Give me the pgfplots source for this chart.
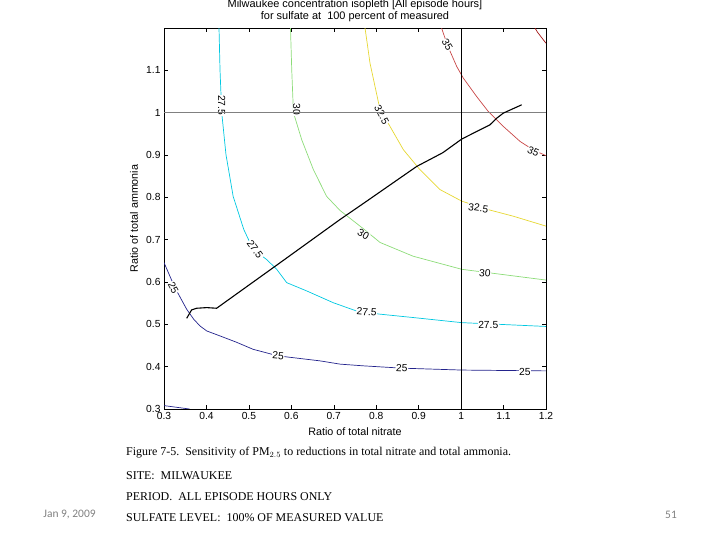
\documentclass[border=0pt]{standalone}
\usepackage{pgfplots}
\pgfplotsset{compat=1.18}
\usepackage{fontspec}
\setmainfont{Liberation Sans}
\newfontfamily\capfont{Liberation Serif}
\newfontfamily\footfont{Carlito}
\definecolor{c25}{RGB}{35,35,140}
\definecolor{c275}{RGB}{0,200,225}
\definecolor{c30}{RGB}{140,220,120}
\definecolor{c325}{RGB}{230,215,50}
\definecolor{c35}{RGB}{200,70,70}
\definecolor{c375}{RGB}{160,20,20}
\begin{document}
\begin{tikzpicture}
\useasboundingbox (0,0) rectangle (720bp,540bp);
\begin{axis}[
  at={(164bp,131bp)}, anchor=south west,
  width=382bp, height=381bp, scale only axis,
  xmin=0.3, xmax=1.2, ymin=0.3, ymax=1.2,
  xtick={0.3,0.4,0.5,0.6,0.7,0.8,0.9,1,1.1,1.2},
  ytick={0.3,0.4,0.5,0.6,0.7,0.8,0.9,1,1.1},
  tick align=inside, major tick length=4bp,
  tick style={black, line width=0.5bp},
  axis line style={black, line width=0.6bp},
  /pgf/number format/assume math mode=true,
  ticklabel style={font=\fontsize{10.3}{11}\selectfont},
  label style={font=\fontsize{10.8}{12}\selectfont},
  xlabel={Ratio of total nitrate},
  xlabel style={at={(axis description cs:0.5,0)}, anchor=center, yshift=-23bp},
  every axis plot/.append style={line width=0.7bp},
  clip=true,
]
% contour 25
\addplot[c25] coordinates {(0.300,0.646)(0.325,0.588)(0.3535,0.5355)(0.37,0.512)(0.385,0.496)(0.4006,0.4844)(0.432,0.4726)(0.47,0.458)(0.510,0.441)(0.5686,0.4255)(0.6676,0.4137)(0.7147,0.406)(0.769,0.402)(0.860,0.3965)(1.0015,0.392)(1.2,0.390)};
\addplot[c25] coordinates {(0.3,0.308)(0.33,0.304)(0.36,0.300)};
% contour 27.5
\addplot[c275] coordinates {(0.4296,1.2)(0.432,1.1)(0.436,1.0)(0.446,0.901)(0.463,0.802)(0.488,0.724)(0.510,0.677)(0.542,0.653)(0.5655,0.630)(0.589,0.5985)(0.636,0.579)(0.699,0.551)(0.755,0.531)(0.809,0.524)(0.8875,0.516)(1.0015,0.504)(1.2,0.495)};
% contour 30
\addplot[c30] coordinates {(0.598,1.2)(0.601,1.1)(0.605,1.0)(0.6245,0.936)(0.652,0.8654)(0.683,0.8025)(0.7147,0.769)(0.769,0.7264)(0.809,0.6934)(0.8867,0.661)(1.0015,0.630)(1.2,0.6046)};
% contour 32.5
\addplot[c325] coordinates {(0.7736,1.2)(0.7854,1.1168)(0.809,1.0068)(0.8325,0.9675)(0.864,0.9125)(0.903,0.8654)(0.9503,0.8183)(1.0015,0.791)(1.06,0.772)(1.123,0.7554)(1.2,0.732)};
% contour 35
\addplot[c35] coordinates {(0.954,1.2)(0.9675,1.16)(0.9897,1.109)(1.0053,1.0815)(1.0367,1.038)(1.064,1.0028)(1.0995,0.9675)(1.139,0.932)(1.17,0.912)(1.2,0.8984)};
% contour 37.5
\addplot[c375] coordinates {(1.174,1.2)(1.18,1.19)(1.2,1.164)};
% contour labels
\begin{scope}[every node/.style={font=\fontsize{10.3}{11}\selectfont, fill=white, inner sep=0.5bp}]
\node[rotate=-90] at (axis cs:0.436,1.018) {27.5};
\node[rotate=-90] at (axis cs:0.6125,1.007) {30};
\node[rotate=-62] at (axis cs:0.813,0.995) {32.5};
\node[rotate=-60] at (axis cs:0.9675,1.16) {35};
\node[rotate=-25] at (axis cs:1.17,0.9085) {35};
\node[rotate=-8] at (axis cs:1.0406,0.775) {32.5};
\node[rotate=-30] at (axis cs:0.7696,0.7122) {30};
\node[rotate=-5] at (axis cs:1.056,0.6204) {30};
\node[rotate=-55] at (axis cs:0.5144,0.677) {27.5};
\node[rotate=-5] at (axis cs:0.7776,0.529) {27.5};
\node at (axis cs:1.064,0.498) {27.5};
\node[rotate=-62] at (axis cs:0.322,0.5867) {25};
\node[rotate=-5] at (axis cs:0.569,0.4255) {25};
\node[rotate=-3] at (axis cs:0.86,0.3965) {25};
\node at (axis cs:1.15,0.388) {25};
\end{scope}
% reference lines
\addplot[gray, line width=1.3bp] coordinates {(0.3,1)(1.2,1)};
\addplot[black, line width=0.8bp] coordinates {(1,0.3)(1,1.2)};
% ridge line
\addplot[black, line width=1.1bp] coordinates {(0.3535,0.5143)(0.365,0.534)(0.377,0.538)(0.4006,0.5395)(0.424,0.538)(0.57,0.643)(0.7147,0.7476)(0.769,0.785)(0.8954,0.873)(0.957,0.9055)(1.0015,0.9377)(1.068,0.9714)(1.084,0.987)(1.0995,0.999)(1.1428,1.0186)};
\end{axis}
% y label
\node[font=\fontsize{10.8}{12}\selectfont, rotate=90] at (134bp,321.5bp) {Ratio of total ammonia};
% title
\node[font=\fontsize{11}{12}\selectfont] at (355bp,535bp) {Milwaukee concentration isopleth [All episode hours]};
\node[font=\fontsize{11}{12}\selectfont] at (355bp,523.5bp) {for sulfate at\ \ 100 percent of measured};
% caption
\begin{scope}[every node/.style={anchor=west, inner sep=0pt, font=\capfont\fontsize{12}{13}\selectfont}]
\node at (126bp,87bp) {Figure 7-5.\ \ Sensitivity of PM$_{2.5}$ to reductions in total nitrate and total ammonia.};
\node at (126bp,64bp) {SITE:\ \ MILWAUKEE};
\node at (126bp,43.3bp) {PERIOD.\ \ ALL EPISODE HOURS ONLY};
\node at (126bp,22.7bp) {SULFATE LEVEL:\ \ 100\% OF MEASURED VALUE};
\end{scope}
% footer
\node[font=\footfont\fontsize{11.5}{13}\selectfont, text=gray] at (69.5bp,25bp) {Jan 9, 2009};
\node[font=\footfont\fontsize{11.5}{13}\selectfont, text=gray] at (671bp,25bp) {51};
\end{tikzpicture}
\end{document}
